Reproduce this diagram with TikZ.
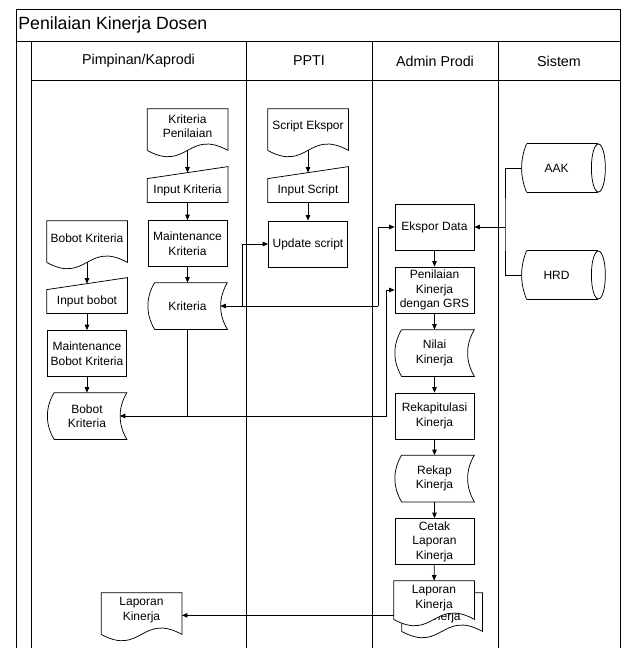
\documentclass[tikz,border=0pt]{standalone}
\usepackage{fontspec}
\setmainfont{Liberation Sans}
\usetikzlibrary{arrows.meta}

% symbol outlines, drawn round a named node
\newcommand\docpath[2]{(#1.north east) -- (#1.north west) -- ([yshift=-#2pt]#1.south west)
  .. controls +(40,22) and +(-40,-22) .. ([yshift=-#2pt]#1.south east) -- cycle}
\newcommand\docshape[2][7]{\draw \docpath{#2}{#1};}
\newcommand\storeshape[1]{%
  \draw ([xshift=7pt]#1.north west) -- (#1.north east)
    .. controls +(-9,15) and +(-9,-15) .. (#1.south east)
    -- ([xshift=7pt]#1.south west)
    .. controls +(-9,-15) and +(-9,15) .. ([xshift=7pt]#1.north west);}
\newcommand\inputshape[1]{%
  \draw (#1.south west) -- (#1.north west) -- ([yshift=12pt]#1.north east)
    -- (#1.south east) -- cycle;}
\newcommand\cylshape[1]{%
  \draw ([xshift=5pt]#1.north west) -- ([xshift=7pt]#1.north east);
  \draw ([xshift=5pt]#1.south west) -- ([xshift=7pt]#1.south east);
  \draw ([xshift=7pt]#1.east) ellipse [x radius=7, y radius=24];
  \draw ([xshift=5pt]#1.north west) .. controls +(-6.7,16) and +(-6.7,-16)
    .. ([xshift=5pt]#1.south west);}

\begin{document}
\begin{tikzpicture}[x=1pt,y=-1pt,line width=0.75pt,>={Triangle[length=5.5pt,width=4.5pt]},
  txt/.style={font=\fontsize{12}{14.5}\selectfont,align=center,inner sep=0pt},
  proc/.style={txt,draw,minimum width=79pt,minimum height=46pt},
  store/.style={txt,minimum width=79pt,minimum height=46pt},
  doc/.style={txt,minimum width=80pt,minimum height=34pt},
  manin/.style={txt,minimum width=80pt,minimum height=23pt},
  cyl/.style={txt,minimum width=69pt,minimum height=48pt},
  lane/.style={font=\fontsize{14.3}{16}\selectfont,inner sep=0pt}]
\useasboundingbox (0,0) rectangle (624,648);
% ================= frame and lanes =================
\draw (16,648) -- (16,9) -- (620,9) -- (620,648);
\draw (16,41) -- (620,41);
\draw (31,41) -- (31,648);
\draw (31,80) -- (620,80);
\foreach \xx in {246,372,498} \draw (\xx,41) -- (\xx,648);
\node[anchor=west,font=\fontsize{17.7}{20}\selectfont,inner sep=0pt] (title) at (18,25) {Penilaian Kinerja Dosen};
\node[lane] (lpim) at (138.5,61) {Pimpinan/Kaprodi};
\node[lane] (lppti) at (309,61) {PPTI};
\node[lane] (ladm) at (435,61) {Admin Prodi};
\node[lane] (lsis) at (559,61) {Sistem};
% ================= Pimpinan/Kaprodi =================
\node[doc] (kp) at (187.5,126) {Kriteria\\Penilaian}; \docshape{kp}
\node[manin] (ik) at (187.5,190.5) {Input Kriteria}; \inputshape{ik}
\node[proc] (mk) at (187.5,243.5) {Maintenance\\Kriteria};
\node[store] (kr) at (187.5,306) {Kriteria}; \storeshape{kr}
\node[doc] (bk) at (87,238) {Bobot Kriteria}; \docshape{bk}
\node[manin] (ib) at (87,301.5) {Input bobot}; \inputshape{ib}
\node[proc] (mbk) at (87,353.5) {Maintenance\\Bobot Kriteria};
\node[store] (bks) at (87,416) {Bobot\\Kriteria}; \storeshape{bks}
\node[doc] (lk) at (141.5,610) {Laporan\\Kinerja}; \docshape{lk}
% ================= PPTI =================
\node[doc] (se) at (308,126) {Script Ekspor}; \docshape{se}
\node[manin] (is) at (308,190.5) {Input Script}; \inputshape{is}
\node[proc] (us) at (308,244) {Update script};
% ================= Admin Prodi =================
\node[proc] (ed) at (434.5,227) {Ekspor Data};
\node[proc] (pk) at (434.5,290) {Penilaian\\Kinerja\\dengan GRS};
\node[store] (nk) at (434.5,353) {Nilai\\Kinerja}; \storeshape{nk}
\node[proc] (rk) at (434.5,416) {Rekapitulasi\\Kinerja};
\node[store] (rks) at (434.5,478.5) {Rekap\\Kinerja}; \storeshape{rks}
\node[proc] (cl) at (434.5,541.5) {Cetak\\Laporan\\Kinerja};
% multi document: back sheet, then front sheet over it
\node[doc] (lkb) at (442,610) {Laporan\\Kinerja}; \docshape[4]{lkb}
\node[doc] (lkf) at (434,598) {};
\fill[white] \docpath{lkf}{4};
\node[txt] (lkft) at (lkf) {Laporan\\Kinerja};
\docshape[4]{lkf}
% ================= Sistem =================
\node[cyl] (aak) at (556.5,168) {AAK}; \cylshape{aak}
\node[cyl] (hrd) at (556.5,275) {HRD}; \cylshape{hrd}
% ================= flows =================
\draw[->] ([yshift=-7pt]kp.south) -- ([yshift=6pt]ik.north);
\draw[->] (ik) -- (mk);
\draw[->] (mk) -- (kr);
\draw[->] ([yshift=-7pt]se.south) -- ([yshift=6pt]is.north);
\draw[->] (is) -- (us);
\draw[->] ([yshift=-7pt]bk.south) -- ([yshift=6pt]ib.north);
\draw[->] (ib) -- (mbk);
\draw[->] (mbk) -- (bks);
\foreach \aa/\bb in {ed/pk,pk/nk,nk/rk,rk/rks,rks/cl,cl/lkf}
  \draw[->] (\aa) -- (\bb);
% data from the systems into Ekspor Data
\coordinate (j5) at (505,227);
\draw (aak.west) -| (j5) |- (hrd.west);
\draw[->] (j5) -- (ed.east);
% Kriteria, Update script and Ekspor Data
\coordinate (j1) at (242,306);
\coordinate (j2) at (378,306);
\draw[->] (j2) -- ([xshift=-7pt]kr.east);
\draw[->] (j1) |- (us.west);
\draw[->] (j2) |- (ed.west);
% Kriteria to Bobot Kriteria and Penilaian
\coordinate (j3) at (187.5,416);
\coordinate (j4) at (386,416);
\draw (kr.south) -- (j3);
\draw[->] (j3) -- ([xshift=-7pt]bks.east);
\draw[->] (j3) -- (j4) |- (pk.west);
% report out
\draw[->] (lkf.south west) -- (lkf.south west -| lk.east);
\end{tikzpicture}
\end{document}
